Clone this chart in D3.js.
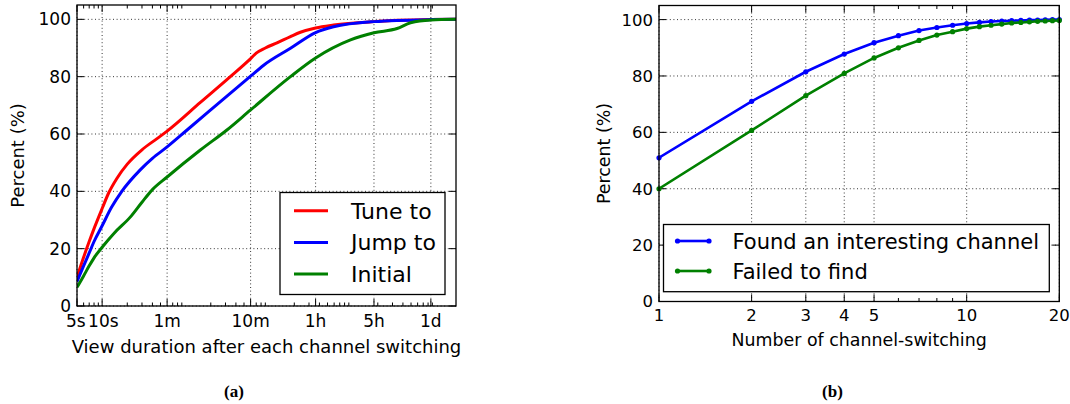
<!DOCTYPE html>
<html><head><meta charset="utf-8">
<script src="https://cdn.jsdelivr.net/npm/d3@7"></script>
<style>body{margin:0;background:#fff}svg{display:block}text{font-family:"DejaVu Sans",sans-serif;fill:#000}</style>
</head><body><svg id="c" width="1070" height="404"></svg>
<script>
// ---------- DATA (left: view duration CDF, seconds) ----------
const tuneSec  = [5,6,7,8,10,12,15,20,30,45,60,150,343,600,700,900,1241,1800,2366,3600,5900,18000,86400,172800];
const tuneVal  = [10,17,22.5,27,34,39.5,44.5,49.5,54.5,58.3,61,71,80,86.3,88.2,90,91.8,94,95.5,97,98,99.2,99.9,100];
const jumpSec  = [5,6,7,8,10,13,17.2,28.6,40,60,104,600,860,1800,3600,5900,18000,86400,172800];
const jumpVal  = [8.5,14,18.5,22.5,28,34.5,40,47.5,51.5,55.5,61.4,80.2,84,89.9,95.4,97.4,99.2,99.9,100];
const initSec  = [5,6,7,8,10,14,21.7,30,40,60,150,312,600,1800,3600,9420,18000,34000,49300,86400,172800];
const initVal  = [6.5,10.5,14,16.8,20.5,25.5,31,36.2,40.6,45,54.4,61.4,68.4,80,86.5,92.8,95.3,96.8,98.8,99.8,100];
const leftTickVals   = [5,10,60,600,3600,18000,86400];
const leftTickLabels = ["5s","10s","1m","10m","1h","5h","1d"];
const leftSeries = ["Tune to","Jump to","Initial"];
// ---------- DATA (right: number of channel switches) ----------
const switchCount = [1,2,3,4,5,6,7,8,9,10,11,12,13,14,15,16,17,18,19,20];
const foundVal  = [51,71,81.5,87.8,91.8,94.3,96.1,97.2,98,98.6,99,99.3,99.5,99.6,99.7,99.8,99.8,99.9,100,100];
const failedVal = [40,60.7,73,80.9,86.4,90,92.6,94.5,95.7,96.8,97.5,98,98.4,98.8,99,99.2,99.4,99.5,99.6,99.7];
const rightTickVals = [1,2,3,4,5,10,20];
const rightSeries = ["Found an interesting channel","Failed to find"];
const yTicks = [0,20,40,60,80,100];

const svg = d3.select("#c");

function minorLog(lo, hi, majors){
  const out=[];
  for(let e=Math.floor(Math.log10(lo));e<=Math.ceil(Math.log10(hi));e++)
    for(let s=2;s<=9;s++){const v=s*Math.pow(10,e); if(v>lo&&v<hi&&!majors.some(m=>Math.abs(m-v)<1e-9)) out.push(v);}
  return out;
}

function panel(o){
  const g = svg.append("g");
  const x = d3.scaleLog().domain(o.xdom).range([o.x0,o.x1]);
  const y = d3.scaleLinear().domain([0,105]).range([o.y0,o.y1]);
  const id = "clip"+o.name;
  svg.append("clipPath").attr("id",id).append("rect").attr("x",o.x0).attr("y",o.y1).attr("width",o.x1-o.x0).attr("height",o.y0-o.y1);
  // grid
  const grid = g.append("g").attr("stroke","#000").attr("stroke-width",0.8).attr("stroke-dasharray","1,2.6");
  o.xt.forEach(v=>grid.append("line").attr("x1",x(v)).attr("x2",x(v)).attr("y1",o.y0).attr("y2",o.y1));
  yTicks.forEach(v=>grid.append("line").attr("x1",o.x0).attr("x2",o.x1).attr("y1",y(v)).attr("y2",y(v)));
  // ticks (inward, all sides)
  const tk = g.append("g").attr("stroke","#000").attr("stroke-width",1);
  const M=o.major, m=o.minor;
  o.xt.forEach(v=>{tk.append("line").attr("x1",x(v)).attr("x2",x(v)).attr("y1",o.y0).attr("y2",o.y0-M);
                   tk.append("line").attr("x1",x(v)).attr("x2",x(v)).attr("y1",o.y1).attr("y2",o.y1+M);});
  minorLog(o.xdom[0],o.xdom[1],o.xt).forEach(v=>{tk.append("line").attr("x1",x(v)).attr("x2",x(v)).attr("y1",o.y0).attr("y2",o.y0-m);
                   tk.append("line").attr("x1",x(v)).attr("x2",x(v)).attr("y1",o.y1).attr("y2",o.y1+m);});
  yTicks.forEach(v=>{tk.append("line").attr("x1",o.x0).attr("x2",o.x0+M).attr("y1",y(v)).attr("y2",y(v));
                     tk.append("line").attr("x1",o.x1).attr("x2",o.x1-M).attr("y1",y(v)).attr("y2",y(v));});
  // tick labels
  o.xt.forEach((v,i)=>g.append("text").attr("x",x(v)+(o.xshift?o.xshift[i]:0)).attr("y",o.xlabY).attr("text-anchor","middle")
     .attr("font-size",o.tfs).text(o.xl[i]));
  yTicks.forEach(v=>g.append("text").attr("x",o.x0-6).attr("y",y(v)).attr("dy","0.36em").attr("text-anchor","end")
     .attr("font-size",o.tfs).text(v));
  // series
  const line = d3.line().x(d=>x(d[0])).y(d=>y(d[1])).curve(o.curve);
  const sg = g.append("g").attr("clip-path",`url(#${id})`);
  o.series.forEach(s=>{
    const pts = s.xs.map((v,i)=>[v,s.ys[i]]);
    sg.append("path").attr("d",line(pts)).attr("fill","none").attr("stroke",s.color).attr("stroke-width",o.lw).attr("stroke-linejoin","round");
    if(o.markers) pts.forEach(p=>g.append("circle").attr("cx",x(p[0])).attr("cy",y(p[1])).attr("r",2.6).attr("fill",s.color));
  });
  // frame
  g.append("rect").attr("x",o.x0).attr("y",o.y1).attr("width",o.x1-o.x0).attr("height",o.y0-o.y1)
    .attr("fill","none").attr("stroke","#000").attr("stroke-width",1.3);
  // axis labels
  g.append("text").attr("x",(o.x0+o.x1)/2).attr("y",o.xtitleY).attr("text-anchor","middle").attr("font-size",o.afs).text(o.xtitle);
  g.append("text").attr("transform",`translate(${o.ytx},${(o.y0+o.y1)/2}) rotate(-90)`).attr("text-anchor","middle")
    .attr("dy","0.36em").attr("font-size",o.afs).text("Percent (%)");
  // legend
  const L=o.legend;
  g.append("rect").attr("x",L.x0).attr("y",L.y0).attr("width",L.x1-L.x0).attr("height",L.y1-L.y0)
    .attr("fill","#fff").attr("stroke","#000").attr("stroke-width",1.3);
  o.series.forEach((s,i)=>{
    const ly=L.ys[i];
    g.append("line").attr("x1",L.lx0).attr("x2",L.lx1).attr("y1",ly).attr("y2",ly).attr("stroke",s.color).attr("stroke-width",o.lw);
    if(o.markers){[L.lx0,L.lx1].forEach(cx=>g.append("circle").attr("cx",cx).attr("cy",ly).attr("r",2.6).attr("fill",s.color));}
    g.append("text").attr("x",L.tx).attr("y",ly).attr("dy","0.36em").attr("font-size",L.fs).text(s.name);
  });
  // caption
  svg.append("text").attr("x",o.capX).attr("y",397).attr("text-anchor","middle")
    .style("font-family","'Liberation Serif','Times New Roman',serif").attr("font-weight","bold").attr("font-size",17).text(o.cap);
}

panel({name:"a", xdom:[5,172800], x0:77, x1:456, y0:306, y1:5, xt:leftTickVals, xl:leftTickLabels,
  xshift:[-1.2,1.2,0,0,0,0,0],
  xlabY:327, tfs:17, afs:18, xtitleY:353, xtitle:"View duration after each channel switching", ytx:18,
  major:7, minor:3.5, lw:3, curve:d3.curveMonotoneX, markers:false,
  series:[{name:leftSeries[0],xs:tuneSec,ys:tuneVal,color:"#ff0000"},
          {name:leftSeries[1],xs:jumpSec,ys:jumpVal,color:"#0000ff"},
          {name:leftSeries[2],xs:initSec,ys:initVal,color:"#008000"}],
  legend:{x0:280,x1:445,y0:192.5,y1:294.5,ys:[210.7,242.5,274],lx0:294,lx1:328,tx:351,fs:22},
  cap:"(a)", capX:234});

panel({name:"b", xdom:[1,20], x0:659, x1:1059.3, y0:301.5, y1:5.5, xt:rightTickVals, xl:rightTickVals.map(String),
  xlabY:321, tfs:16.5, afs:17.4, xtitleY:346, xtitle:"Number of channel-switching", ytx:604,
  major:7, minor:3.5, lw:2.6, curve:d3.curveLinear, markers:true,
  series:[{name:rightSeries[0],xs:switchCount,ys:foundVal,color:"#0000ff"},
          {name:rightSeries[1],xs:switchCount,ys:failedVal,color:"#008000"}],
  legend:{x0:663.5,x1:1049.3,y0:224.5,y1:291.7,ys:[241,271],lx0:677.5,lx1:709,tx:732.5,fs:21},
  cap:"(b)", capX:832.5});
</script></body></html>
